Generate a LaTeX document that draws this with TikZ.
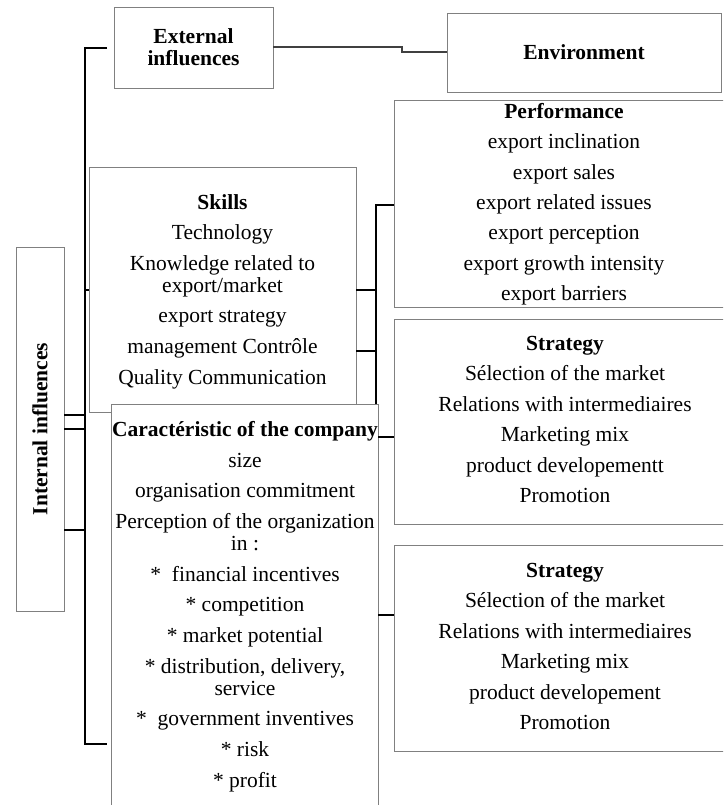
\documentclass[tikz,border=0pt]{standalone}
\usepackage{fontspec}
\setmainfont{Liberation Serif}
\begin{document}
\begin{tikzpicture}[x=1pt,y=-1pt,
  box/.style={draw=black!50, line width=0.9pt, fill=white, inner sep=0pt},
  link/.style={draw=black, line width=2pt},
  txt/.style={font=\fontsize{21.5}{22}\selectfont, align=center, inner sep=0pt},
  ttl/.style={font=\fontsize{21.5}{22}\selectfont\bfseries, align=center, inner sep=0pt},
  list/.style={font=\fontsize{21.5}{30.4}\selectfont, align=center, inner sep=0pt, anchor=north},
]
\useasboundingbox (0,0) rectangle (723,805);
\clip (0,0) rectangle (723,805);

% boxes
\node[box, ttl, minimum width=159pt, minimum height=81pt] (ext) at (193.5,47.5) {External\\influences};
\node[box, ttl, minimum width=274pt, minimum height=79pt] (env) at (584,52.5) {Environment};
\node[box, minimum width=48pt, minimum height=364pt] (int) at (40,429) {};
\node[ttl, rotate=90] (int-t) at (40,429) {Internal influences};
\node[box, minimum width=342pt, minimum height=207pt] (perf) at (565,203.5) {};
\node[box, minimum width=342pt, minimum height=205pt] (str1) at (565,421.5) {};
\node[box, minimum width=342pt, minimum height=206pt] (str2) at (565,648) {};
\node[box, minimum width=267pt, minimum height=245pt] (skills) at (222.5,289.5) {};
\node[box, minimum width=267pt, minimum height=410pt] (car) at (244.5,609) {};

% box contents
\node[txt, anchor=north] (skills-t) at (222.5,194) {\textbf{Skills}\\[8.6pt]
  Technology\\[8.6pt]
  Knowledge related to\\ export/market\\[8.6pt]
  export strategy\\[8.6pt]
  management Contrôle\\[8.6pt]
  Quality Communication};
\node[list] (perf-t) at (564,103) {\textbf{Performance}\\
  export inclination\\ export sales\\ export related issues\\
  export perception\\ export growth intensity\\ export barriers};
\node[list] (str1-t) at (565,336) {\textbf{Strategy}\\
  Sélection of the market\\ Relations with intermediaires\\
  Marketing mix\\ product developementt\\ Promotion};
\node[list] (str2-t) at (565,563) {\textbf{Strategy}\\
  Sélection of the market\\ Relations with intermediaires\\
  Marketing mix\\ product developement\\ Promotion};
\node[txt, anchor=north] (car-t) at (245,421) {\textbf{Caractéristic of the company}\\[8.7pt]
  size\\[8.7pt]
  organisation commitment\\[8.7pt]
  Perception of the organization\\ in :\\[8.7pt]
  *~~financial incentives\\[8.7pt]
  * competition\\[8.7pt]
  * market potential\\[8.7pt]
  * distribution, delivery,\\ service\\[8.7pt]
  *~~government inventives\\[8.7pt]
  * risk\\[8.7pt]
  * profit};

% connector levels
\coordinate (lspine) at (85,0);
\coordinate (rspine) at (376,0);
\coordinate (lt) at (107,48);
\coordinate (lb) at (107,744);
\coordinate (y415) at (0,415);
\coordinate (y429) at (0,429);
\coordinate (y530) at (0,530);
\coordinate (rtop) at (376,205);
\coordinate (y290) at (0,290);
\coordinate (y351) at (0,351);
\coordinate (y437) at (0,437);
\coordinate (y615) at (0,615);
\coordinate (step) at (402,0);

% left bracket
\draw[link] (lt) -- (lspine |- lt) -- (lspine |- lb) -- (lb);
\draw[link] (lspine |- skills.west) -- (skills.west);
\draw[link] (int.east |- y415) -- (lspine |- y415);
\draw[link] (int.east |- y429) -- (lspine |- y429);
\draw[link] (int.east |- y530) -- (lspine |- y530);

% right bracket
\draw[link] (perf.west |- rtop) -- (rtop) -- (rspine |- car.north);
\draw[link] (skills.east |- y290) -- (rspine |- y290);
\draw[link] (skills.east |- y351) -- (rspine |- y351);
\draw[link] (car.east |- y437) -- (str1.west |- y437);
\draw[link] (car.east |- y615) -- (str2.west |- y615);

% external to environment
\draw[link, draw=black!75] (ext.east) -- (step |- ext.east) -- (step |- env.west) -- (env.west);
\end{tikzpicture}
\end{document}
